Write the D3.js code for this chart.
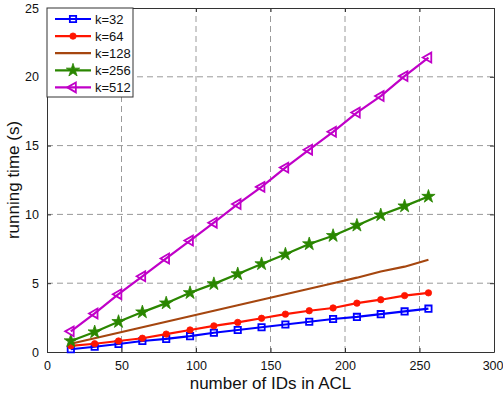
<!DOCTYPE html>
<html>
<head>
<meta charset="utf-8">
<script src="https://cdn.jsdelivr.net/npm/d3@7"></script>
<style>
  html, body { margin: 0; padding: 0; background: #fff; }
  svg { display: block; font-family: "Liberation Sans", Arial, Helvetica, sans-serif; }
</style>
</head>
<body>
<svg id="chart" width="503" height="395"></svg>
<script>
// Number of IDs in the ACL (x) for every measured run
const ids = [16, 32, 48, 64, 80, 96, 112, 128, 144, 160, 176, 192, 208, 224, 240, 256];

// Running time in seconds for each k
const k32  = [0.2, 0.38, 0.58, 0.8, 0.95, 1.15, 1.4, 1.6, 1.8, 2.0, 2.2, 2.4, 2.55, 2.75, 2.95, 3.15];
const k64  = [0.45, 0.6, 0.8, 1.0, 1.3, 1.6, 1.9, 2.15, 2.45, 2.75, 3.0, 3.2, 3.55, 3.8, 4.1, 4.3];
const k128 = [0.6, 1.0, 1.4, 1.8, 2.2, 2.6, 3.0, 3.4, 3.8, 4.2, 4.6, 5.0, 5.4, 5.85, 6.2, 6.7];
const k256 = [0.8, 1.45, 2.2, 2.9, 3.55, 4.3, 4.95, 5.67, 6.4, 7.1, 7.85, 8.45, 9.2, 9.95, 10.6, 11.3];
const k512 = [1.5, 2.8, 4.2, 5.5, 6.8, 8.1, 9.4, 10.75, 12.0, 13.4, 14.7, 16.0, 17.4, 18.6, 20.05, 21.4];

const seriesNames = ["k=32", "k=64", "k=128", "k=256", "k=512"];
const xTicks = [0, 50, 100, 150, 200, 250, 300];
const yTicks = [0, 5, 10, 15, 20, 25];

const series = [
  { name: seriesNames[0], values: k32,  color: "#0000ff", marker: "square" },
  { name: seriesNames[1], values: k64,  color: "#ff1500", marker: "circle" },
  { name: seriesNames[2], values: k128, color: "#a5460f", marker: null },
  { name: seriesNames[3], values: k256, color: "#2a8600", marker: "star" },
  { name: seriesNames[4], values: k512, color: "#c000c8", marker: "left" }
];

const svg = d3.select("#chart");
const plotL = 47, plotR = 494, plotT = 8, plotB = 352;

const x = d3.scaleLinear().domain([0, 300]).range([plotL, plotR]);
const y = d3.scaleLinear().domain([0, 25]).range([plotB, plotT]);

// dashed grid
const grid = svg.append("g").attr("stroke", "#9a9a9a").attr("stroke-width", 1)
  .attr("stroke-dasharray", "6,4").attr("fill", "none");
xTicks.slice(1, -1).forEach(t => {
  grid.append("line").attr("x1", x(t)).attr("x2", x(t)).attr("y1", plotB).attr("y2", plotT);
});
yTicks.slice(1, -1).forEach(t => {
  grid.append("line").attr("x1", plotL).attr("x2", plotR).attr("y1", y(t)).attr("y2", y(t));
});

// axes with inward ticks
const xAxis = svg.append("g").attr("transform", `translate(0,${plotB})`)
  .call(d3.axisBottom(x).tickValues(xTicks).tickSizeInner(-4).tickSizeOuter(0).tickPadding(9));
const yAxis = svg.append("g").attr("transform", `translate(${plotL},0)`)
  .call(d3.axisLeft(y).tickValues(yTicks).tickSizeInner(-4).tickSizeOuter(0).tickPadding(8));
svg.append("g").attr("transform", `translate(0,${plotT})`)
  .call(d3.axisTop(x).tickValues(xTicks).tickSizeInner(-4).tickSizeOuter(0).tickFormat(""));
svg.append("g").attr("transform", `translate(${plotR},0)`)
  .call(d3.axisRight(y).tickValues(yTicks).tickSizeInner(-4).tickSizeOuter(0).tickFormat(""));

svg.selectAll(".domain").attr("stroke", "#333").attr("stroke-width", 1);
svg.selectAll(".tick line").attr("stroke", "#333");
[xAxis, yAxis].forEach(a => a.selectAll("text")
  .attr("font-size", 12.5).attr("fill", "#111")
  .attr("font-family", "'Liberation Sans', Arial, sans-serif"));
// keep the last x label inside the canvas
xAxis.selectAll(".tick").filter(d => d === 300).select("text").attr("text-anchor", "end").attr("x", 9);

// marker shapes
function markerPath(kind) {
  if (kind === "square") return d3.symbol(d3.symbolSquare, 40)();
  if (kind === "circle") return d3.symbol(d3.symbolCircle, 32)();
  if (kind === "star") return d3.symbol(d3.symbolStar, 55)();
  if (kind === "left") return d3.symbol(d3.symbolTriangle, 42)();
  return null;
}
function drawMarker(g, kind, color, px, py) {
  const p = g.append("path").attr("d", markerPath(kind));
  let tr = `translate(${px},${py})`;
  if (kind === "left") tr += " rotate(-90)";
  p.attr("transform", tr);
  if (kind === "square" || kind === "left") {
    p.attr("fill", "none").attr("stroke", color).attr("stroke-width", 1.8);
  } else {
    p.attr("fill", color).attr("stroke", color).attr("stroke-width", 0.8);
  }
}

const line = d3.line().x((d, i) => x(ids[i])).y(d => y(d));

series.forEach(s => {
  const g = svg.append("g");
  g.append("path").datum(s.values).attr("d", line)
    .attr("fill", "none").attr("stroke", s.color).attr("stroke-width", 2.2)
    .attr("stroke-linejoin", "round");
  if (s.marker) {
    s.values.forEach((v, i) => drawMarker(g, s.marker, s.color, x(ids[i]), y(v)));
  }
});

// legend
const lg = svg.append("g");
lg.append("rect").attr("x", plotL).attr("y", plotT).attr("width", 86).attr("height", 89)
  .attr("fill", "#fff").attr("stroke", "#333").attr("stroke-width", 1);
series.forEach((s, i) => {
  const cy = 19 + i * 17.1;
  lg.append("line").attr("x1", 55).attr("x2", 91).attr("y1", cy).attr("y2", cy)
    .attr("stroke", s.color).attr("stroke-width", 2.2);
  if (s.marker) drawMarker(lg, s.marker, s.color, 73, cy);
  lg.append("text").attr("x", 95).attr("y", cy).attr("dy", "0.36em")
    .attr("font-size", 13).attr("fill", "#111").text(s.name);
});

// axis titles
svg.append("text").attr("x", (plotL + plotR) / 2).attr("y", 389)
  .attr("text-anchor", "middle").attr("font-size", 17).attr("fill", "#111")
  .text("number of IDs in ACL");
svg.append("text").attr("transform", `translate(19,${(plotT + plotB) / 2}) rotate(-90)`)
  .attr("text-anchor", "middle").attr("font-size", 17).attr("fill", "#111")
  .text("running time (s)");
</script>
</body>
</html>
